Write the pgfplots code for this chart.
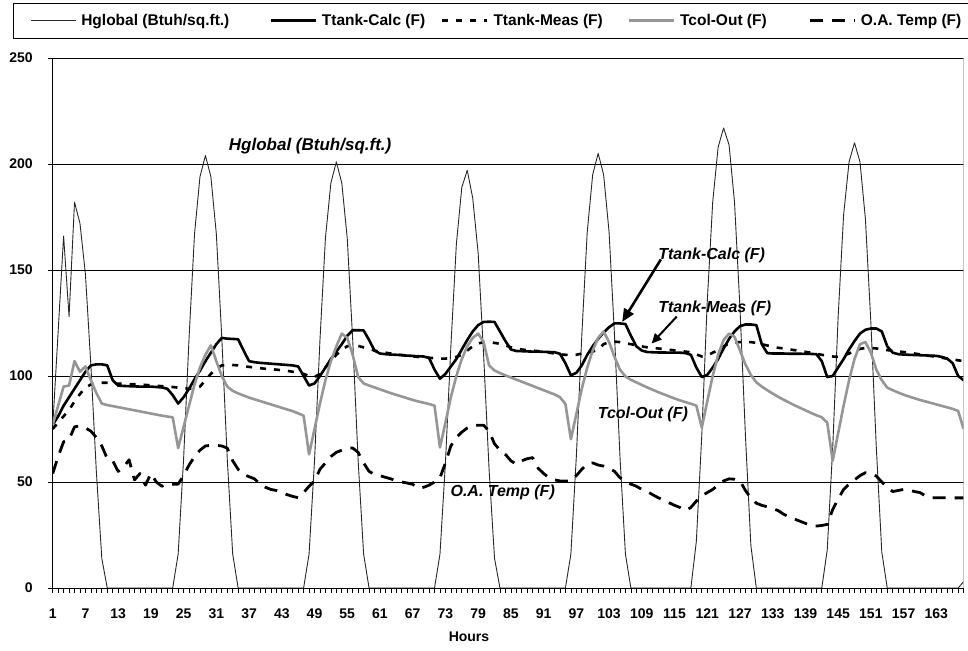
\documentclass[border=0pt]{standalone}
\usepackage{fontspec}
\setmainfont{Liberation Sans}
\usepackage{pgfplots}
\usepackage{pgfplotstable}
\pgfplotsset{compat=1.18}
\usetikzlibrary{arrows.meta}
\definecolor{tcol}{RGB}{150,150,150}
\definecolor{hgl}{RGB}{40,40,40}

\pgfplotstableread{
h H Tc Tm Tco OA
1 76 77 75 77 54
2 121 81 78 86 62
3 166 86 81 95 69
4 128 90 84 95.5 70
5 182 94 88 107 76
6 172 98 91.5 102 76.5
7 148 102 94.5 104.5 75.5
8 105 105 96 98 74
9 55 105.5 96.5 92 71
10 14 105.5 96.8 87 67
11 0 105 96.8 86.3 61
12 0 98 96.5 85.8 60
13 0 95.5 96.4 85.3 55
14 0 95.3 96.3 84.8 57
15 0 95.2 96.2 84.3 60.5
16 0 95.1 96.1 83.8 51
17 0 95 96 83.3 54
18 0 95 95.8 82.8 48.5
19 0 95 95.6 82.3 54
20 0 94.8 95.4 81.8 50
21 0 94.6 95.2 81.3 48
22 0 94 95 80.9 49
23 0 91 94.8 80.5 49
24 16 87 94.5 66 49
25 61 90 94.2 76 53
26 118 94 94 86 58
27 167 98.5 94.3 96 62
28 194 102.5 95 104 65
29 204 107 98 110 67
30 194 111 101 114.5 67.3
31 167 115 103.5 107 67.3
32 118 118 105 100 67
33 61 117.6 105.3 95 66
34 16 117.5 105.2 93 60
35 0 117.3 105 91.8 56
36 0 112 104.6 90.8 53.6
37 0 107 104.3 89.8 52.5
38 0 106.5 104 89 51.5
39 0 106.2 103.7 88.2 49
40 0 106 103.4 87.4 47.5
41 0 105.8 103.2 86.6 46.5
42 0 105.6 103 85.8 46
43 0 105.4 102.7 85 45
44 0 105.2 102.4 84.2 44
45 0 105 102 83.4 43.2
46 0 104.5 101.5 82.4 42.6
47 0 100 101 81.3 45
48 16 95.5 100 63 48
49 60 96.5 99.5 75 50.5
50 117 100 101 87 56
51 165 104 104 98 59
52 191 108 107 107 62
53 201 111.5 110 114 64
54 191 115 112.5 120 65
55 165 119 114 118 66
56 117 121.6 114.5 110 66
57 60 121.6 114.2 99.5 64
58 16 121.5 113.5 96.5 59
59 0 117 112.8 95.5 55
60 0 112 112 94.6 53.6
61 0 110.6 111.4 93.7 53
62 0 110.3 111 92.8 52.2
63 0 110.1 110.6 91.9 51.5
64 0 110 110.2 91.1 50.5
65 0 109.8 109.9 90.3 50
66 0 109.6 109.6 89.5 49.5
67 0 109.5 109.3 88.7 48.9
68 0 109.3 109 88 47
69 0 109.2 108.8 87.4 47.5
70 0 108.5 108.6 86.8 48.5
71 0 103 108.4 86 50
72 16 98.7 108.2 66.3 52
73 59 101 108.2 78 59
74 114 104.5 108.5 90 67
75 162 108 109 100 71
76 189 112.5 110 108 73.5
77 197 117 112 114 75.5
78 184 121 114 118 76.5
79 158 124 115.3 120 76.8
80 110 125.5 116 116 76.8
81 56 125.6 116 105 74
82 14 125.5 115.6 102.6 68
83 0 121 115.2 101.4 65
84 0 116.5 114.5 100.3 63
85 0 112.5 113.5 99.3 60
86 0 111.8 113 98.3 58.4
87 0 111.7 112.5 97.3 60
88 0 111.6 112.2 96.3 61
89 0 111.5 112 95.3 61.5
90 0 111.5 111.7 94.3 56.5
91 0 111.4 111.4 93.3 54
92 0 111.3 111 92.3 52
93 0 111.2 110.6 91.3 51
94 0 110.5 110.2 90 50.5
95 0 106 110 86.8 50.5
96 16 100.3 109.8 70.2 50.5
97 62 101.5 110 82 53
98 119 105 110.6 94 56
99 168 110 111 104 58.5
100 195 114 111.5 112 59
101 205 117.5 112.5 118 58
102 195 120.5 115 121 57.5
103 168 123 116 116 56.5
104 119 124.8 116.2 109 55
105 62 124.8 116 103 52
106 16 124.5 115.5 99.8 50.5
107 0 119 115 98.2 49
108 0 114 114.5 97 48
109 0 112 114 95.8 46.5
110 0 111.3 113.5 94.6 45.5
111 0 111.2 113.2 93.5 44
112 0 111.1 113 92.4 42.6
113 0 111.1 112.7 91.4 41.5
114 0 111 112.4 90.4 40.2
115 0 111 112.1 89.4 39
116 0 111 111.8 88.5 38
117 0 110.8 111.5 87.7 36.5
118 0 110 111.2 86.9 38
119 22 104 110.2 86 41
120 72 99.5 109.2 75.7 43.5
121 135 100.5 109.5 88 45
122 182 104 111 100 46.5
123 208 108 112.2 110 48.5
124 217 113 114 117 50.5
125 209 117.5 115.3 120 51.5
126 182 121 115.8 118.5 51.3
127 132 123.5 116 112 50.5
128 72 124.3 116 105.5 46
129 20 124.3 116 100.5 42.5
130 0 124 115.6 97 40
131 0 115 115 95 39
132 0 110.8 114.4 93.3 38.3
133 0 110.6 113.8 91.7 37.5
134 0 110.6 113.3 90.2 36.5
135 0 110.6 113 88.8 34.8
136 0 110.5 112.6 87.5 33.5
137 0 110.5 112.2 86.2 32.5
138 0 110.5 111.8 85 31.5
139 0 110.4 111.4 83.8 30.5
140 0 110.4 111 82.6 29.3
141 0 110.3 110.5 81.5 29.2
142 0 107 110 80.5 29.5
143 18 99.5 109.6 78 30
144 66 100 109.2 60 37
145 128 104 109 73 42
146 176 108 109.6 86 46.5
147 201 112.5 110.6 98 49
148 210 116.5 111.8 108 51
149 201 120 112.8 115 53
150 174 121.8 113.2 116 54.4
151 125 122.4 113.2 111 54
152 66 122.4 113 103 52.8
153 17 121 112.6 98 50
154 0 114 112.2 94.5 47.5
155 0 111 111.9 93.3 45.5
156 0 110.3 111.6 92.2 46
157 0 110.1 111.3 91.2 46.5
158 0 110 111 90.3 46.2
159 0 109.9 110.6 89.5 45.5
160 0 109.8 110.2 88.7 45
161 0 109.7 109.8 88 43.5
162 0 109.6 109.4 87.3 42.6
163 0 109.5 109 86.6 42.6
164 0 109 108.6 85.9 42.6
165 0 108.2 108.2 85.2 42.6
166 0 106 107.8 84.5 42.5
167 0 100 107.4 83.5 42.5
168 3 98 107 75 42.5
}\data

\begin{document}
\begin{tikzpicture}[x=1pt,y=1pt]
\useasboundingbox (0,0) rectangle (968,650);
\begin{axis}[
  at={(52.7pt,62pt)}, anchor=south west,
  scale only axis, width=910.9pt, height=530pt,
  xmin=1, xmax=168, ymin=0, ymax=250,
  xtick={1,7,...,163}, minor xtick={1,...,168},
  ytick={0,50,...,250},
  tick align=outside, tick pos=left,
  major tick length=4.5pt, minor tick length=4.5pt,
  every tick/.style={black, line width=0.6pt},
  every minor tick/.style={black, line width=0.6pt},
  ymajorgrids, grid style={black, line width=0.7pt},
  axis x line*=bottom, axis y line*=left,
  axis line style={black, line width=0.9pt},
  /pgf/number format/assume math mode=true,
  ticklabel style={font=\bfseries\fontsize{14}{16}\selectfont},
  xticklabel style={yshift=-13pt},
  yticklabel style={xshift=-12pt},
  xlabel={Hours},
  xlabel style={at={(axis description cs:0.457,-0.0925)}, anchor=center, font=\bfseries\fontsize{14}{16}\selectfont},
  legend columns=5,
  legend style={at={(axis description cs:-0.04358,1.10377)}, anchor=north west,
    draw=black, line width=0.8pt, inner xsep=5pt, inner ysep=9pt,
    font=\bfseries\fontsize{15.5}{17}\selectfont,
    nodes={inner xsep=0pt},
    /tikz/every odd column/.style={column sep=5pt},
    /tikz/every even column/.style={column sep=0pt}},
  legend image code/.code={\path (0pt,0pt); \draw[#1] (12pt,0pt) -- (57pt,0pt);},
  line join=round,
]
\addplot[hgl, line width=0.9pt] table[x=h,y=H]{\data};
\addlegendentry{\makebox[176pt][l]{Hglobal (Btuh/sq.ft.)}}
\addplot[black, line width=2.6pt] table[x=h,y=Tc]{\data};
\addlegendentry{\makebox[107pt][l]{Ttank-Calc (F)}}
\addplot[black, line width=2.6pt, dash pattern=on 6pt off 8pt] table[x=h,y=Tm]{\data};
\addlegendentry{\makebox[122pt][l]{Ttank-Meas (F)}}
\addplot[tcol, line width=2.6pt] table[x=h,y=Tco]{\data};
\addlegendentry{\makebox[116pt][l]{Tcol-Out (F)}}
\addplot[black, line width=2.8pt, dash pattern=on 13pt off 9pt] table[x=h,y=OA]{\data};
\addlegendentry{\makebox[103pt][l]{O.A. Temp (F)}}

\draw[gray!70, line width=0.8pt] (rel axis cs:1,0) -- (rel axis cs:1,1);

\begin{scope}[every node/.style={font=\bfseries\itshape\fontsize{16}{18}\selectfont, inner sep=0pt}]
\node[font=\bfseries\itshape\fontsize{17}{19}\selectfont] at (axis cs:48.2,208.3) {Hglobal (Btuh/sq.ft.)};
\node[anchor=west] at (axis cs:112,157) {Ttank-Calc (F)};
\node[anchor=west] at (axis cs:112,132) {Ttank-Meas (F)};
\node at (axis cs:109.2,82.1) {Tcol-Out (F)};
\node at (axis cs:83.5,45.1) {O.A. Temp (F)};
\end{scope}
\draw[line width=2.6pt, -{Triangle[length=13pt,width=11pt]}] (axis cs:112.5,155) -- (axis cs:105.4,125.5);
\draw[line width=2pt, -{Triangle[length=10pt,width=9pt]}] (axis cs:115.4,128) -- (axis cs:110.8,115.3);
\end{axis}
\end{tikzpicture}
\end{document}
